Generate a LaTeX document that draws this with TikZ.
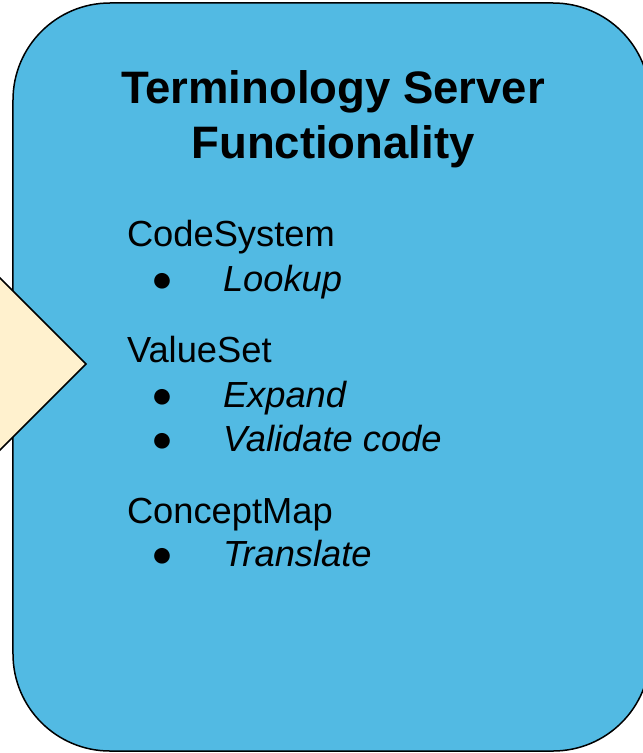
\documentclass[tikz,border=0pt]{standalone}
\usepackage{fontspec}
\setmainfont{Liberation Sans}
\usetikzlibrary{positioning,shapes.geometric}
\definecolor{serverblue}{RGB}{82,186,227}
\definecolor{clientyellow}{RGB}{255,241,206}
\tikzset{
every node/.style={inner sep=0pt, outer sep=0pt},
panel/.style={draw=black, line width=1.5bp, fill=serverblue, rounded corners=97bp},
pointer/.style={diamond, aspect=1, draw=black, line width=1.5bp, fill=clientyellow},
heading/.style={font=\fontsize{45.5bp}{55bp}\selectfont\bfseries, align=center},
group/.style={font=\fontsize{36.3bp}{44bp}\selectfont, anchor=base west},
entry/.style={group},
}
\tikzset{
    beneath/.style args={#1 of #2}{
         below = #1 of #2.base west, anchor=base west
    }
}
\newcommand{\bul}[1]{\makebox[72bp][l]{●}\textit{#1}}

\begin{document}
\begin{tikzpicture}[x=1bp,y=1bp]
   \useasboundingbox (0,0) rectangle (643,-753);
   \clip (0,0) rectangle (643,-753);
   \node[panel, minimum width=637bp, minimum height=748bp] (server) at (331.5,-377) {};
   \node[pointer, minimum width=380bp, minimum height=380bp] (client) at (-104,-364) {};
   \node[heading, anchor=base] (title) at (333,-158) {Terminology Server\\Functionality};
   \node[group] (cs) at (127,-246) {CodeSystem};
   \node[entry] (cs_1) [beneath=45bp of cs, xshift=24bp] {\bul{Lookup}};
   \node[group] (vs) [beneath=71bp of cs_1, xshift=-24bp] {ValueSet};
   \node[entry] (vs_1) [beneath=45bp of vs, xshift=24bp] {\bul{Expand}};
   \node[entry] (vs_2) [beneath=44bp of vs_1] {\bul{Validate code}};
   \node[group] (cm) [beneath=72bp of vs_2, xshift=-24bp] {ConceptMap};
   \node[entry] (cm_1) [beneath=43bp of cm, xshift=24bp] {\bul{Translate}};
\end{tikzpicture}
\end{document}
